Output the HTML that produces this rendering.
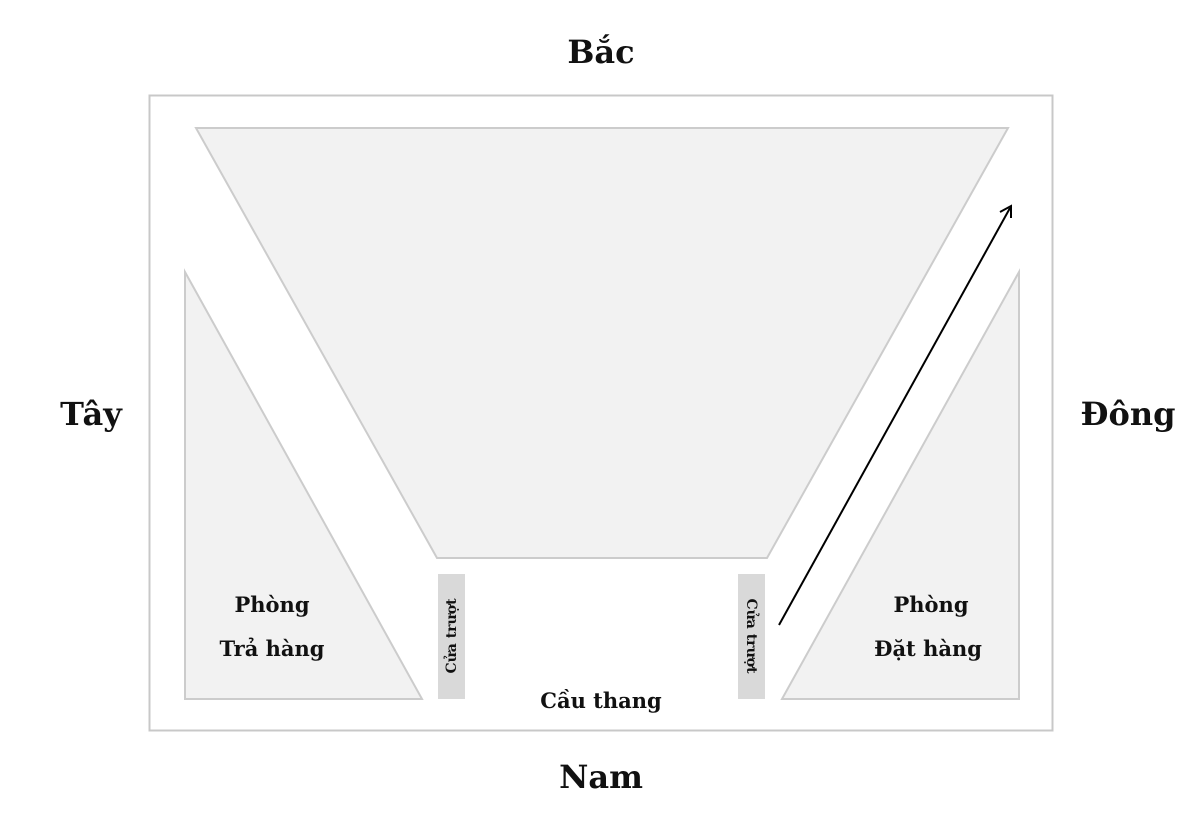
<!DOCTYPE html>
<html><head><meta charset="utf-8"><style>
body{margin:0;background:#fff;}
svg text{font-family:"DejaVu Serif","Liberation Serif",serif;font-weight:bold;fill:#111;}
</style></head><body>
<svg width="1202" height="828" viewBox="0 0 1202 828" xmlns="http://www.w3.org/2000/svg">
<rect x="149.5" y="95.5" width="903" height="635" fill="#fff" stroke="#c8c8c8" stroke-width="2"/>
<polygon points="196,128 1008,128 767,558 437,558" fill="#f2f2f2" stroke="#cccccc" stroke-width="2"/>
<polygon points="185,272 185,699 422,699" fill="#f2f2f2" stroke="#cccccc" stroke-width="2"/>
<polygon points="1019,272 1019,699 782,699" fill="#f2f2f2" stroke="#cccccc" stroke-width="2"/>
<rect x="438" y="574" width="27" height="125" fill="#d9d9d9"/>
<rect x="738" y="574" width="27" height="125" fill="#d9d9d9"/>
<text transform="translate(456,636) rotate(-90)" text-anchor="middle" font-size="14">Cửa trượt</text>
<text transform="translate(747,636) rotate(90)" text-anchor="middle" font-size="14">Cửa trượt</text>
<line x1="779" y1="625" x2="1010" y2="208" stroke="#000" stroke-width="2"/>
<polyline points="1000,212 1011,206 1011,218" fill="none" stroke="#000" stroke-width="2"/>
<text x="601" y="63" text-anchor="middle" font-size="32">Bắc</text>
<text x="601" y="788" text-anchor="middle" font-size="32">Nam</text>
<text x="91" y="425" text-anchor="middle" font-size="32">Tây</text>
<text x="1128" y="425" text-anchor="middle" font-size="32">Đông</text>
<text x="272" y="612" text-anchor="middle" font-size="21">Phòng</text>
<text x="272" y="656" text-anchor="middle" font-size="21">Trả hàng</text>
<text x="931" y="612" text-anchor="middle" font-size="21">Phòng</text>
<text x="928" y="656" text-anchor="middle" font-size="21">Đặt hàng</text>
<text x="601" y="708" text-anchor="middle" font-size="21">Cầu thang</text>
</svg>
</body></html>
